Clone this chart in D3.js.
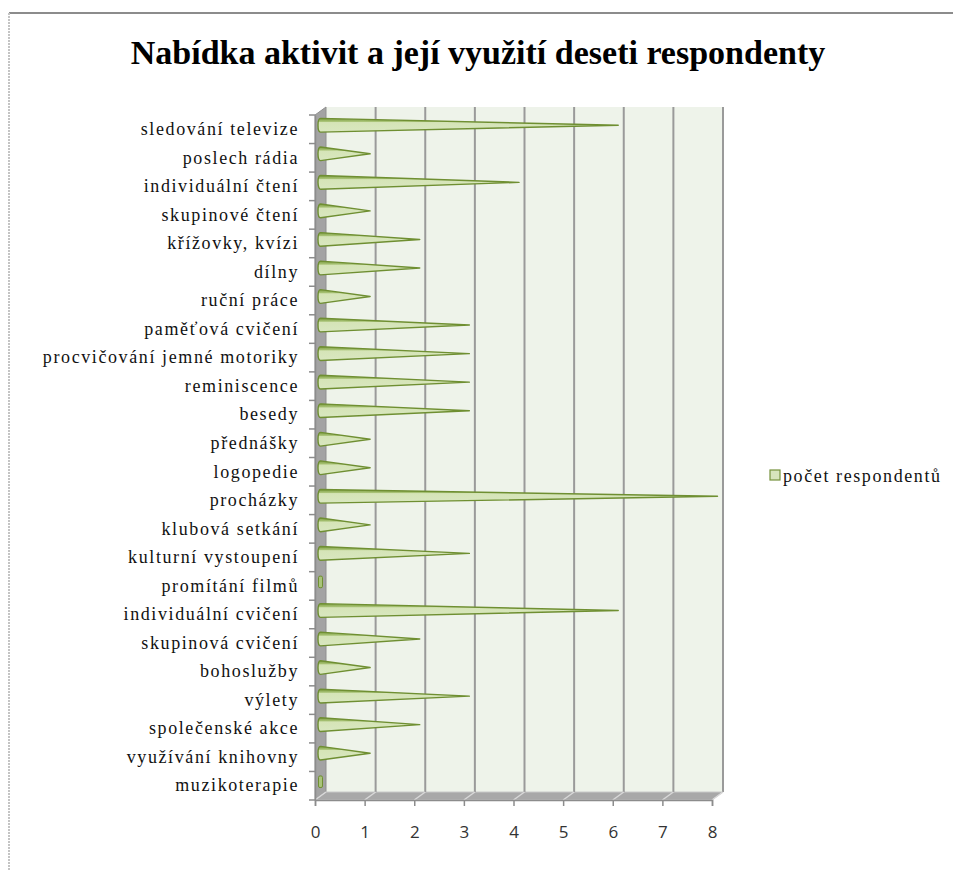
<!DOCTYPE html>
<html>
<head>
<meta charset="utf-8">
<script src="https://cdn.jsdelivr.net/npm/d3@7"></script>
<style>
  html, body { margin: 0; padding: 0; background: #fff; }
  svg { display: block; }
</style>
</head>
<body>
<svg id="chart" width="953" height="871"></svg>
<script>
// Activities offered and how many of the ten respondents use them
const categories = [
  "sledování televize", "poslech rádia", "individuální čtení", "skupinové čtení",
  "křížovky, kvízi", "dílny", "ruční práce", "paměťová cvičení",
  "procvičování jemné motoriky", "reminiscence", "besedy", "přednášky",
  "logopedie", "procházky", "klubová setkání", "kulturní vystoupení",
  "promítání filmů", "individuální cvičení", "skupinová cvičení", "bohoslužby",
  "výlety", "společenské akce", "využívání knihovny", "muzikoterapie"
];
const respondents = [6, 1, 4, 1, 2, 2, 1, 3, 3, 3, 3, 1, 1, 8, 1, 3, 0, 6, 2, 1, 3, 2, 1, 0];
const xTicks = [0, 1, 2, 3, 4, 5, 6, 7, 8];
const seriesName = "počet respondentů";
const title = "Nabídka aktivit a její využití deseti respondenty";

const svg = d3.select("#chart");
const serif = "'Liberation Serif', 'Times New Roman', serif";

// 3D depth offset of the back wall relative to the front plane
const DX = 11, DY = -8;

const x = d3.scaleLinear().domain([0, 8]).range([315, 712]);
const y = d3.scaleBand().domain(categories).range([115, 800]).paddingInner(0).paddingOuter(0);

// Outer frame
svg.append("line").attr("x1", 9).attr("x2", 953).attr("y1", 13).attr("y2", 13)
  .attr("stroke", "#8c8c8c").attr("stroke-width", 2);
svg.append("line").attr("x1", 9).attr("x2", 9).attr("y1", 13).attr("y2", 871)
  .attr("stroke", "#c4c4c4").attr("stroke-width", 2).attr("stroke-dasharray", "2,1");

// Title
svg.append("text")
  .attr("x", 478).attr("y", 64)
  .attr("text-anchor", "middle")
  .attr("font-family", serif)
  .attr("font-weight", "bold")
  .attr("font-size", 34)
  .attr("fill", "#000")
  .text(title);

const x0 = x(0), x8 = x(8), yTop = y.range()[0], yBot = y.range()[1];

// Back wall
svg.append("polygon")
  .attr("points", [[x0 + DX, yTop + DY], [x8 + DX, yTop + DY], [x8 + DX, yBot + DY], [x0 + DX, yBot + DY]].join(" "))
  .attr("fill", "#eef3ea");

// Left side wall
svg.append("polygon")
  .attr("points", [[x0, yTop], [x0 + DX, yTop + DY], [x0 + DX, yBot + DY], [x0, yBot]].join(" "))
  .attr("fill", "#a3a3a3").attr("stroke", "#8f8f8f").attr("stroke-width", 1);

// Floor
svg.append("polygon")
  .attr("points", [[x0, yBot], [x0 + DX, yBot + DY], [x8 + DX, yBot + DY], [x8, yBot]].join(" "))
  .attr("fill", "#a8a8a8").attr("stroke", "#c8c8c8").attr("stroke-width", 1);

// Vertical gridlines on the back wall and across the floor
const grid = svg.append("g");
xTicks.forEach(t => {
  const gx = x(t);
  if (t > 0) {
    grid.append("line")
      .attr("x1", gx + DX).attr("x2", gx + DX).attr("y1", yTop + DY).attr("y2", yBot + DY)
      .attr("stroke", "#9a9a9a").attr("stroke-width", 2);
  }
  grid.append("line")
    .attr("x1", gx + DX).attr("x2", gx).attr("y1", yBot + DY).attr("y2", yBot)
    .attr("stroke", "#d8d8d8").attr("stroke-width", 1.5);
});

// Value axis along the front edge of the floor
const xAxis = d3.axisBottom(x).tickValues(xTicks).tickSize(6).tickPadding(20).tickFormat(d3.format("d"));
const gx = svg.append("g").attr("transform", `translate(0,${yBot})`).call(xAxis);
gx.select(".domain").attr("stroke", "#8c8c8c").attr("stroke-width", 1.5);
gx.selectAll(".tick line").attr("stroke", "#8c8c8c").attr("stroke-width", 1.5);
gx.selectAll(".tick text")
  .attr("font-family", "'Open Sans', 'Liberation Sans', sans-serif")
  .attr("font-size", 17).attr("fill", "#333");

// Category axis along the front edge of the side wall
const yAxis = d3.axisLeft(y).tickSize(0).tickPadding(16);
const gy = svg.append("g").attr("transform", `translate(${x0},0)`).call(yAxis);
gy.select(".domain").attr("stroke", "#8c8c8c").attr("stroke-width", 1.5);
gy.selectAll(".tick text")
  .attr("font-family", serif)
  .attr("font-size", 18).attr("letter-spacing", "1.6px").attr("fill", "#111");
// tick marks on category boundaries
const bounds = categories.map(c => y(c)).concat([yBot]);
svg.append("g").selectAll("line").data(bounds).join("line")
  .attr("x1", x0 - 6).attr("x2", x0).attr("y1", d => d).attr("y2", d => d)
  .attr("stroke", "#8c8c8c").attr("stroke-width", 1.5);

// Cone shading
const defs = svg.append("defs");
const grad = defs.append("linearGradient").attr("id", "coneFill")
  .attr("x1", 0).attr("y1", 0).attr("x2", 0).attr("y2", 1);
grad.append("stop").attr("offset", "0%").attr("stop-color", "#7f9f43");
grad.append("stop").attr("offset", "22%").attr("stop-color", "#a6c173");
grad.append("stop").attr("offset", "30%").attr("stop-color", "#d5e4b7");
grad.append("stop").attr("offset", "100%").attr("stop-color", "#d9e7c0");

// Cones sit at mid depth
const cdx = DX / 2, cdy = DY / 2;
const r = y.bandwidth() * 0.24;
const cones = svg.append("g");
categories.forEach((c, i) => {
  const v = respondents[i];
  const cy = y(c) + y.bandwidth() / 2 + cdy;
  const bx = x(0) + cdx;
  const tx = x(v) + cdx;
  if (v > 0) {
    cones.append("path")
      .attr("d", `M${bx},${cy - r} L${tx},${cy} L${bx},${cy + r} A2.5,${r} 0 0 1 ${bx},${cy - r} Z`)
      .attr("fill", "url(#coneFill)")
      .attr("stroke", "#6f8f32").attr("stroke-width", 1.4).attr("stroke-linejoin", "round");
  } else {
    cones.append("rect")
      .attr("x", bx - 2).attr("y", cy - r * 0.85).attr("width", 4).attr("height", r * 1.7).attr("rx", 1.5)
      .attr("fill", "#a9c47a").attr("stroke", "#6f8f32").attr("stroke-width", 1);
  }
});

// Legend
const lg = svg.append("g").attr("transform", "translate(770,470)");
lg.append("rect").attr("width", 10).attr("height", 10)
  .attr("fill", "#d7e4bd").attr("stroke", "#76923c").attr("stroke-width", 1.2);
lg.append("text").attr("x", 13).attr("y", 12)
  .attr("font-family", serif)
  .attr("font-size", 18).attr("letter-spacing", "1.6px").attr("fill", "#111")
  .text(seriesName);
</script>
</body>
</html>
